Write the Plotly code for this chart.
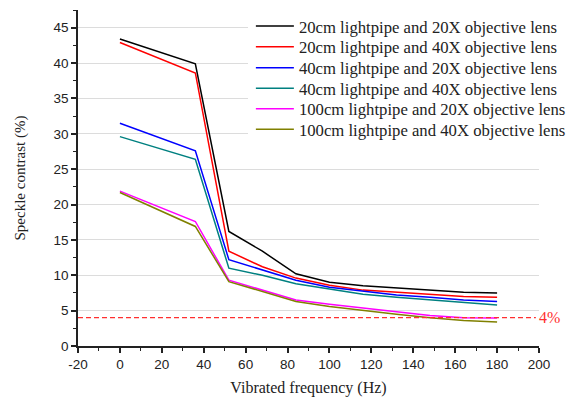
import plotly.graph_objects as go

freq = [0, 36, 52, 68, 84, 100, 116, 132, 148, 164, 180]
names = [
    "20cm lightpipe and 20X objective lens",
    "20cm lightpipe and 40X objective lens",
    "40cm lightpipe and 20X objective lens",
    "40cm lightpipe and 40X objective lens",
    "100cm lightpipe and 20X objective lens",
    "100cm lightpipe and 40X objective lens",
]
s_20cm_20x = [43.4, 39.9, 16.2, 13.4, 10.2, 9.0, 8.5, 8.2, 7.9, 7.6, 7.5]
s_20cm_40x = [42.9, 38.6, 13.4, 11.2, 9.6, 8.6, 7.9, 7.6, 7.3, 7.0, 6.9]
s_40cm_20x = [31.5, 27.6, 12.2, 10.8, 9.3, 8.3, 7.7, 7.2, 6.9, 6.5, 6.3]
s_40cm_40x = [29.6, 26.4, 11.0, 10.0, 8.8, 8.0, 7.3, 6.9, 6.5, 6.1, 5.8]
s_100cm_20x = [21.9, 17.6, 9.3, 7.9, 6.5, 5.9, 5.4, 4.9, 4.3, 4.0, 3.95]
s_100cm_40x = [21.7, 16.9, 9.1, 7.7, 6.3, 5.6, 5.0, 4.5, 4.0, 3.6, 3.4]
threshold = 4
threshold_label = "4%"
x_ticks = [-20, 0, 20, 40, 60, 80, 100, 120, 140, 160, 180, 200]
x_ticktext = ["-20", "0", "20", "40", "60", "80", "100", "120", "140", "160", "180", "200"]
y_ticks = [0, 5, 10, 15, 20, 25, 30, 35, 40, 45]

series = [s_20cm_20x, s_20cm_40x, s_40cm_20x, s_40cm_40x, s_100cm_20x, s_100cm_40x]
colors = ["#000000", "#ff0000", "#0000ff", "#008080", "#ff00ff", "#808000"]

W, H = 568, 400
ML, MR, MT, MB = 78, 29, 10, 54
plot_w = W - ML - MR
plot_h = H - MT - MB
legend_centers_px = [26.2, 47.0, 67.8, 88.3, 108.8, 129.3]

fig = go.Figure()
legend_layout = {}
for i, (name, ys, c) in enumerate(zip(names, series, colors)):
    lg = "legend" if i == 0 else f"legend{i+1}"
    fig.add_trace(go.Scatter(x=freq, y=ys, mode="lines", name=name, legend=lg,
                             line=dict(color=c, width=1.5)))
    legend_layout[lg] = dict(
        x=0.375, y=(H - MB - legend_centers_px[i]) / plot_h,
        xanchor="left", yanchor="middle",
        bgcolor="rgba(0,0,0,0)", borderwidth=0, itemwidth=38,
        font=dict(family="Liberation Serif", size=16.7, color="#222"),
    )

# white panel behind the legend (hides gridlines there, like the original)
fig.add_shape(type="rect", xref="paper", yref="paper", layer="above",
              x0=(248 - ML) / plot_w, x1=1.0,
              y0=(H - MB - 141) / plot_h, y1=1.0,
              fillcolor="white", line=dict(width=0))

fig.add_shape(type="line", xref="x", yref="y", x0=-20, x1=198.5, y0=threshold, y1=threshold,
              line=dict(color="#ff3030", width=1.2, dash="5px,3px"))
fig.add_annotation(x=199, y=threshold, xref="x", yref="y", text=threshold_label, showarrow=False,
                   xanchor="left", yanchor="middle",
                   font=dict(family="Liberation Serif", size=16, color="#ff3030"))

fig.update_layout(
    width=W, height=H,
    margin=dict(l=ML, r=MR, t=MT, b=MB, autoexpand=False),
    paper_bgcolor="white", plot_bgcolor="white",
    showlegend=True,
    **legend_layout,
    xaxis=dict(range=[-20, 200], tickmode="array", tickvals=x_ticks, ticktext=x_ticktext,
               automargin=False,
               ticks="outside", ticklen=5, tickwidth=1.5, tickcolor="#222",
               showline=True, linecolor="#222", linewidth=1.5, showgrid=False, zeroline=False,
               minor=dict(ticks="outside", ticklen=3, tickwidth=1.2, tickcolor="#222", dtick=10, showgrid=False),
               tickfont=dict(family="Liberation Sans", size=13.5, color="#222"),
               title=dict(text="Vibrated frequency (Hz)", standoff=11,
                          font=dict(family="Liberation Serif", size=16, color="#222"))),
    yaxis=dict(range=[0, 47.5], tickmode="array", tickvals=y_ticks,
               automargin=False,
               ticks="outside", ticklen=5, tickwidth=1.5, tickcolor="#222",
               showline=True, linecolor="#222", linewidth=1.5,
               showgrid=True, gridcolor="#dcdcdc", gridwidth=1.2, zeroline=False,
               minor=dict(ticks="outside", ticklen=3, tickwidth=1.2, tickcolor="#222", dtick=2.5, showgrid=False),
               tickfont=dict(family="Liberation Sans", size=13.5, color="#222"),
               title=dict(text="Speckle contrast (%)", standoff=24,
                          font=dict(family="Liberation Serif", size=15, color="#222"))),
)

fig.write_html("out.html", config={"displayModeBar": False},
               post_script="document.body.style.margin='0';")
